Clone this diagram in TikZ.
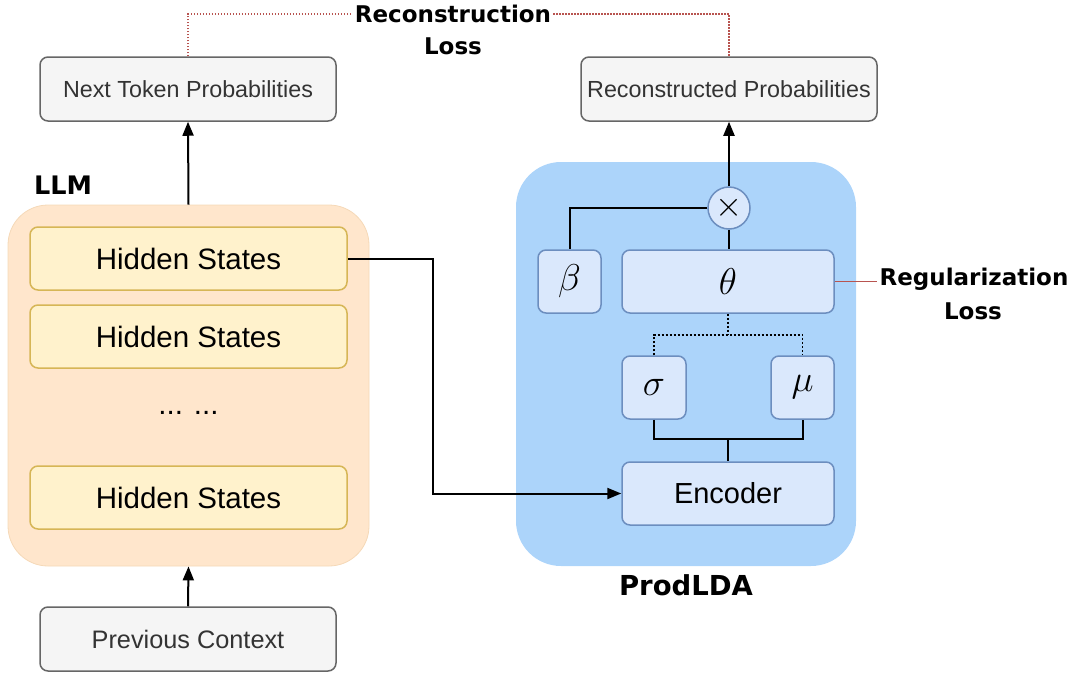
\documentclass[tikz,border=0pt]{standalone}
\usepackage{fontspec}
\setmainfont{Liberation Sans}
\newfontfamily\labfont{DejaVu Sans}
\usetikzlibrary{arrows.meta,calc}
\definecolor{grayfill}{HTML}{F5F5F5}
\definecolor{grayline}{HTML}{666666}
\definecolor{graytext}{HTML}{333333}
\definecolor{llmfill}{HTML}{FFE6CC}
\definecolor{llmline}{HTML}{F5D9B8}
\definecolor{hidfill}{HTML}{FFF2CC}
\definecolor{hidline}{HTML}{D6B656}
\definecolor{ldafill}{HTML}{ACD4FA}
\definecolor{bluefill}{HTML}{DAE8FC}
\definecolor{blueline}{HTML}{6C8EBF}
\definecolor{lossred}{HTML}{B85450}
\newcommand{\bigsym}[1]{\scalebox{1.5}{$#1$}}
\begin{document}
\begin{tikzpicture}[x=1pt,y=-1pt,
  graybox/.style={draw=grayline, fill=grayfill, line width=1.5pt, rounded corners=8pt,
    minimum width=296pt, minimum height=64pt, text=graytext, font=\fontsize{23.3}{27}\selectfont},
  hidbox/.style={draw=hidline, fill=hidfill, line width=1.5pt, rounded corners=8pt,
    minimum width=317pt, minimum height=63pt, font=\fontsize{29.5}{33}\selectfont},
  bluebox/.style={draw=blueline, fill=bluefill, line width=1.5pt, rounded corners=8pt,
    minimum height=63pt, font=\fontsize{24.88}{30}\selectfont},
  labtext/.style={font=\labfont\bfseries\fontsize{23}{27}\selectfont, inner sep=2pt},
  conn/.style={line width=2pt, black},
  arr/.style={conn, -{Triangle[length=14pt,width=11pt]}},
  reddot/.style={lossred, line width=1.3pt, dash pattern=on 1.5pt off 1.5pt},
]
\useasboundingbox (0,0) rectangle (1074,675);

% containers
\node[draw=llmline, fill=llmfill, line width=0.8pt, rounded corners=40pt,
  minimum width=361pt, minimum height=361pt] (llm) at (188.5,385.5) {};
\node[fill=ldafill, rounded corners=45pt,
  minimum width=340pt, minimum height=404pt] (lda) at (686,364) {};

% labels
\node[labtext, font=\labfont\bfseries\fontsize{25.5}{28}\selectfont] (llmlab) at (63,185) {LLM};
\node[labtext, font=\labfont\bfseries\fontsize{27.5}{30}\selectfont] (ldalab) at (686,585) {ProdLDA};
\node[labtext] (rec) at (453,14) {Reconstruction};
\node[labtext] (recl) at (453,46) {Loss};
\node[labtext] (reg) at (974,279) {Regularization};
\node[labtext] (regl) at (973,311) {Loss};

% gray boxes
\node[graybox] (ntp) at (188,89) {Next Token Probabilities};
\node[graybox] (rp) at (729,89) {Reconstructed Probabilities};
\node[graybox, font=\fontsize{25.3}{29}\selectfont] (pc) at (188,639) {Previous Context};

% hidden states
\node[hidbox] (h1) at (188.5,258.5) {Hidden States};
\node[hidbox] (h2) at (188.5,336.5) {Hidden States};
\node[font=\fontsize{29.5}{33}\selectfont] (dots) at (188.5,413) {... ...};
\node[hidbox] (h4) at (188.5,497.5) {Hidden States};

% ProdLDA inner
\node[draw=blueline, fill=bluefill, line width=1.5pt, circle, minimum size=42pt, inner sep=0pt,
  font=\fontsize{24.88}{30}\selectfont] (mult) at (729,208) {\scalebox{1.4}{$\times$}};
\node[bluebox, minimum width=63pt] (beta) at (569.5,281.5) {\bigsym{\beta}};
\node[bluebox, minimum width=212pt] (theta) at (728,281.5) {\bigsym{\theta}};
\node[bluebox, minimum width=64pt] (sigma) at (654,387.5) {\bigsym{\sigma}};
\node[bluebox, minimum width=63pt] (mu) at (802.5,387.5) {\bigsym{\mu}};
\node[bluebox, minimum width=212pt, font=\fontsize{29}{33}\selectfont] (enc) at (728,493.5) {Encoder};

% connectors
\draw[arr] (llm.north) -- (ntp.south);
\draw[arr] (pc.north) -- (llm.south);
\draw[arr] (mult.north) -- (rp.south);
\draw[conn] (mult.west) -| (beta.north);
\draw[conn] (mult.south) -- (mult.south |- theta.north);
\draw[conn, line width=1.6pt, dash pattern=on 2pt off 2pt] (theta.south) -- ++(0,21) coordinate (tj);
\draw[conn, line width=1.6pt, dash pattern=on 2pt off 2pt] (sigma.north) |- (tj) -| (mu.north);
\coordinate (ej) at ($(enc.north)+(0,-22)$);
\draw[conn] (sigma.south) |- (ej) -| (mu.south);
\draw[conn] (ej) -- (enc.north);
\draw[arr] (h1.east) -- ++(85,0) |- (enc.west);

% losses
\draw[reddot] (ntp.north) |- (rec.west);
\draw[reddot] (rec.east) -| (rp.north);
\draw[lossred, line width=1.6pt] (theta.east) -- (theta.east -| reg.west);
\end{tikzpicture}
\end{document}
